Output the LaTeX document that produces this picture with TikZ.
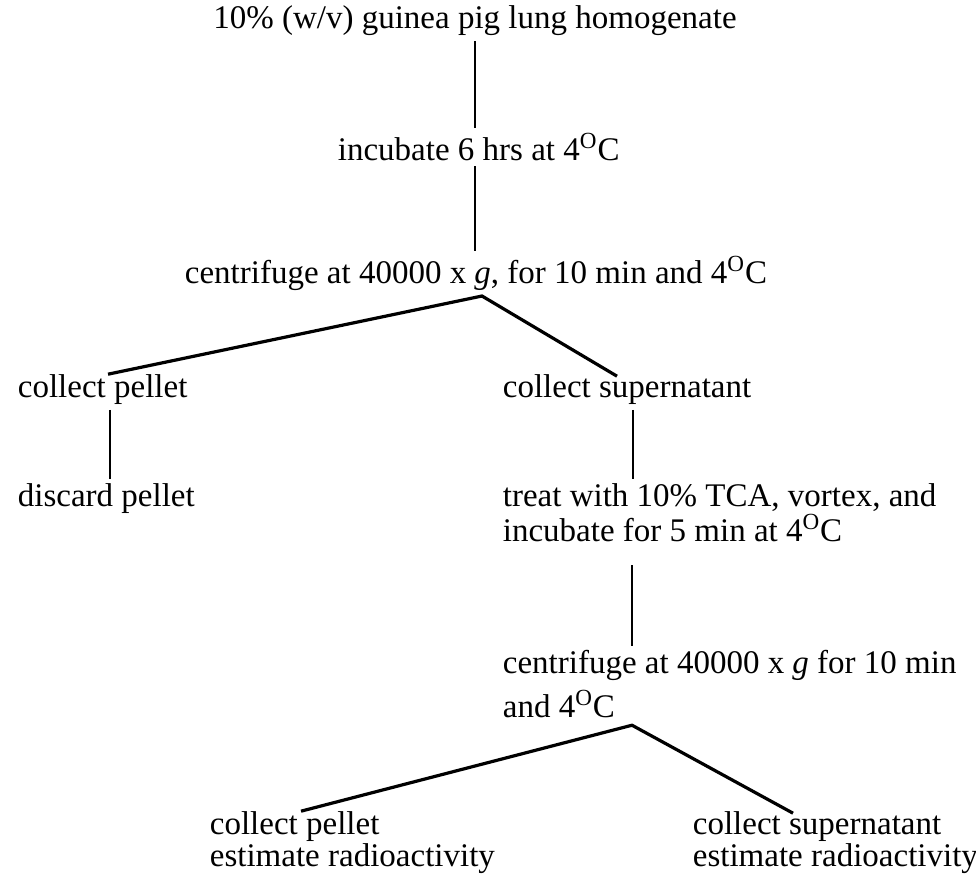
\documentclass[tikz,border=0pt]{standalone}
\usepackage{fontspec}
\setmainfont{Liberation Serif}
\usetikzlibrary{calc}
\newcommand{\atfour}{4\textsuperscript{O}C}

\begin{document}
\begin{tikzpicture}[
  x=0.5pt, y=-0.5pt,
  font=\fontsize{16.5}{17.5}\selectfont,
  txt/.style={anchor=base west, align=left, inner sep=2.25pt},
  lnk/.style={line width=1pt},
  fork/.style={line width=1.6pt, line join=miter},
]
\useasboundingbox (0,0) rectangle (976,881);

% ------------------------------------------------------------------ trunk
\node[txt, anchor=base] (hom) at (475,29) {10\% (w/v) guinea pig lung homogenate};
\node[txt] (inc)  at (333,161) {incubate 6 hrs at \atfour};
\node[txt] (cen1) at (180,284) {centrifuge at 40000 x \textit{g}, for 10 min and \atfour};

\draw[lnk] (hom.south) -- (hom.south |- inc.north);
\draw[lnk] (inc.south -| hom.south) -- (hom.south |- cen1.north);

% ------------------------------------------------------------------ first spin
% (two-line nodes sit on the baseline of their last line)
\node[txt] (pel1) at (13,398)  {collect pellet};
\node[txt] (dis)  at (13,507)  {discard pellet};
\node[txt] (sup1) at (498,398) {collect supernatant};
\node[txt] (tca)  at (498,542) {treat with 10\% TCA, vortex, and\\incubate for 5 min at \atfour};

\coordinate (fork1) at ($(cen1.south west)+(302,0)$);
\draw[fork] ($(pel1.north west)+(95,4)$) -- (fork1) -- ($(sup1.north west)+(119,6)$);

\draw[lnk] ($(pel1.south west)+(97,0)$) coordinate (p1) -- (p1 |- dis.north);
\draw[lnk] ($(sup1.south west)+(135,0)$) coordinate (s1) -- (s1 |- tca.north);

% ------------------------------------------------------------------ second spin
\node[txt] (cen2) at (498,718) {centrifuge at 40000 x \textit{g} for 10 min\\[4.5pt]and \atfour};
\draw[lnk, shorten <=9pt] ($(tca.south west)+(134,0)$) coordinate (t1) -- (t1 |- cen2.north);

\node[txt] (pel2) at (205,867) {collect pellet\\[-1.5pt]estimate radioactivity};
\node[txt] (sup2) at (688,867) {collect supernatant\\[-1.5pt]estimate radioactivity};

\coordinate (fork2) at ($(cen2.south west)+(134,2)$);
\draw[fork] ($(pel2.north west)+(96,4)$) -- (fork2) -- ($(sup2.north west)+(105,6)$);
\end{tikzpicture}
\end{document}
